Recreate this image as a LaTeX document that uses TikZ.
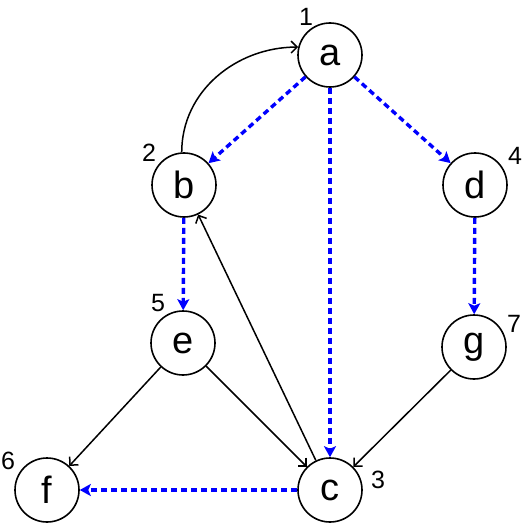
\documentclass[tikz,border=0pt]{standalone}
\usepackage{fontspec}
\setmainfont{Liberation Sans}
\usetikzlibrary{calc, positioning, arrows.meta}

\tikzset{
  vertex/.style={
    draw=black, circle,
    line width=1.6pt,
    minimum size=64pt,
    inner sep=0pt,
    font=\fontsize{38}{40}\selectfont
  },
  order/.style={
    inner sep=0pt,
    font=\fontsize{25}{28}\selectfont
  },
  treeedge/.style={
    draw=blue,
    line width=3.4pt,
    dash pattern=on 6pt off 4pt,
    -{Stealth[length=11pt,width=12pt,inset=2.5pt]}
  },
  otheredge/.style={
    draw=black,
    line width=1.5pt,
    -{Straight Barb[length=6pt,width=12pt]}
  }
}

\begin{document}
\begin{tikzpicture}[x=1pt, y=-1pt]
\useasboundingbox (0,0) rectangle (524,524);

% vertices
\node[vertex] (a) at (330,55) {a};
\node[vertex] (b) at (184,185) {b};
\node[vertex] (d) at (475,185) {d};
\node[vertex] (e) at (183,343) {e};
\node[vertex] (g) at (474,347) {g};
\node[vertex] (c) at (330,490) {c};
\node[vertex] (f) at (47,490) {f};

% visit order
\node[order] (n1) at ($(a)+(-24,-38)$) {1};
\node[order] (n2) at ($(b)+(-35,-32)$) {2};
\node[order] (n3) at ($(c)+(48,-10)$) {3};
\node[order] (n4) at ($(d)+(40,-29)$) {4};
\node[order] (n5) at ($(e)+(-25,-40)$) {5};
\node[order] (n6) at ($(f)+(-39,-29)$) {6};
\node[order] (n7) at ($(g)+(40,-23)$) {7};

% tree edges
\draw[treeedge] (a) -- (b);
\draw[treeedge] (a) -- (c);
\draw[treeedge] (a) -- (d);
\draw[treeedge] (b) -- (e);
\draw[treeedge] (d) -- (g);
\draw[treeedge] (c) -- (f);

% other edges
\draw[otheredge] (b.94) to[out=90, in=180] (a.166);
\draw[otheredge] (c) -- (b);
\draw[otheredge] (e) -- (f);
\draw[otheredge] (e) -- (c);
\draw[otheredge] (g) -- (c);

\end{tikzpicture}
\end{document}
